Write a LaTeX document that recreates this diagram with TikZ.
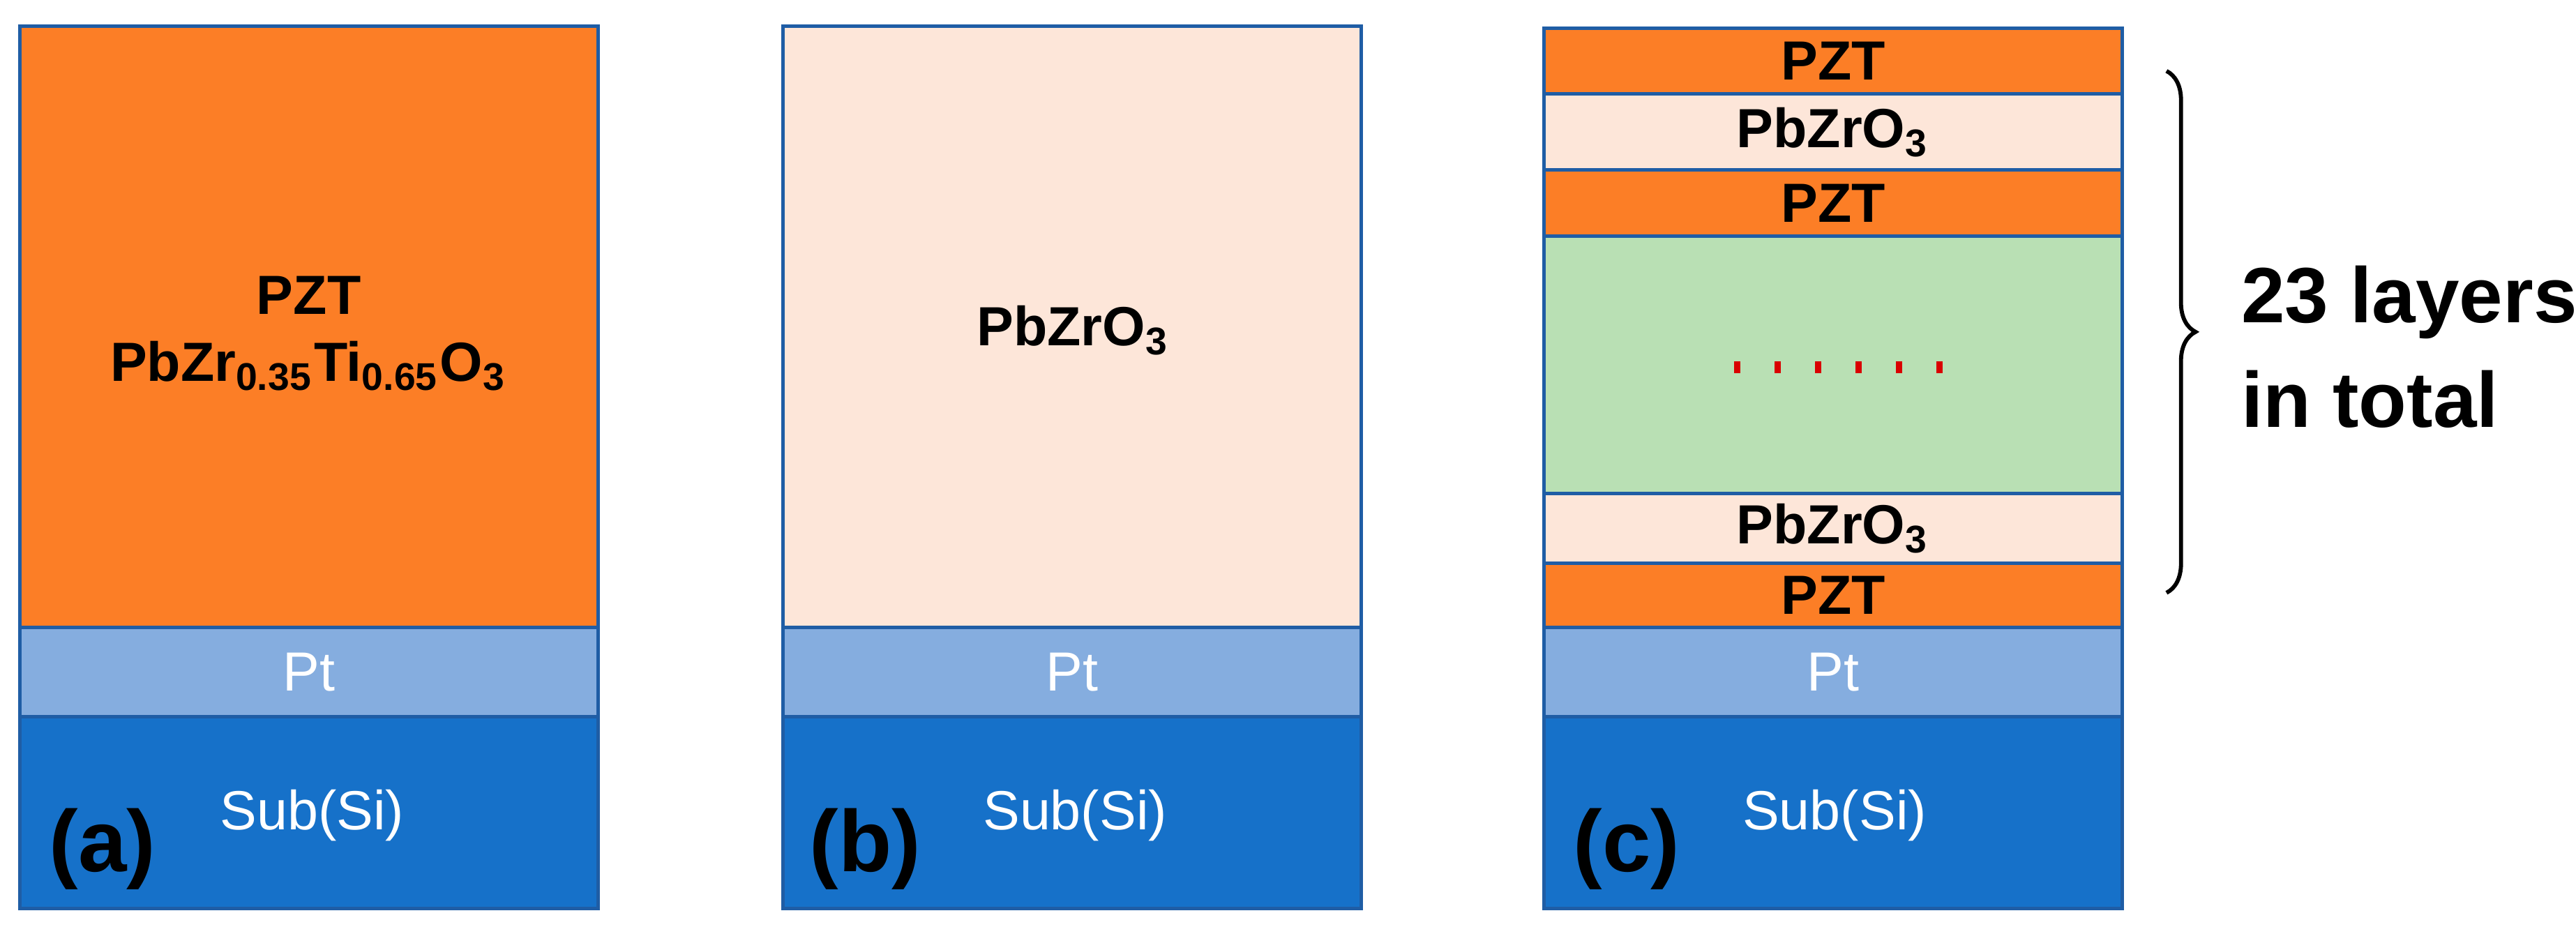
\documentclass[tikz,border=0pt]{standalone}
\usepackage{fontspec}
\setmainfont{Liberation Sans}
\usetikzlibrary{positioning, decorations.pathreplacing}
\definecolor{pztorange}{HTML}{FC7E26}
\definecolor{pzopeach}{HTML}{FDE6D9}
\definecolor{ptblue}{HTML}{85ADDF}
\definecolor{subblue}{HTML}{1671C9}
\definecolor{midgreen}{HTML}{B9E0B4}
\definecolor{edgeblue}{HTML}{1F5DA5}
\tikzset{
	layer/.style={rectangle, draw=edgeblue, line width=0.6pt, anchor=north west,
		minimum width=3.50cm, inner sep=0pt, outer sep=0pt},
	lbl/.style={font=\fontsize{9.5}{11.5}\selectfont\bfseries},
	wlbl/.style={font=\fontsize{9.5}{11}\selectfont, text=white},
	tag/.style={font=\fontsize{15}{19}\selectfont\bfseries}
}
\begin{document}
\begin{tikzpicture}[x=0.01cm, y=-0.01cm]
	\useasboundingbox (0,0) rectangle (1560,561);
	% panel (a)
	\node[layer, fill=pztorange, minimum height=3.64cm] (pzta) at (12,16) {};
	\node[layer, fill=ptblue, minimum height=0.54cm] (pta) at (12,380) {};
	\node[layer, fill=subblue, minimum height=1.16cm] (suba) at (12,434) {};
	\node[lbl, align=center] at (187,202) {PZT\\PbZr\textsubscript{0.35}Ti\textsubscript{0.65}O\textsubscript{3}};
	\node[wlbl] at (pta.center) {Pt};
	\node[wlbl] at (189,494) {Sub(Si)};
	\node[tag] at (62,514) {(a)};
	% panel (b)
	\node[layer, fill=pzopeach, minimum height=3.64cm] (pzob) at (474,16) {};
	\node[layer, fill=ptblue, minimum height=0.54cm] (ptb) at (474,380) {};
	\node[layer, fill=subblue, minimum height=1.16cm] (subb) at (474,434) {};
	\node[lbl] at (650,200) {PbZrO\textsubscript{3}};
	\node[wlbl] at (ptb.center) {Pt};
	\node[wlbl] at (651,494) {Sub(Si)};
	\node[tag] at (524,514) {(b)};
	% panel (c)
	\node[layer, fill=pztorange, minimum height=0.40cm] (c1) at (935,17) {};
	\node[layer, fill=pzopeach, minimum height=0.46cm] (c2) at (935,57) {};
	\node[layer, fill=pztorange, minimum height=0.40cm] (c3) at (935,103) {};
	\node[layer, fill=midgreen, minimum height=1.56cm] (c4) at (935,143) {};
	\node[layer, fill=pzopeach, minimum height=0.42cm] (c5) at (935,299) {};
	\node[layer, fill=pztorange, minimum height=0.39cm] (c6) at (935,341) {};
	\node[layer, fill=ptblue, minimum height=0.54cm] (ptc) at (935,380) {};
	\node[layer, fill=subblue, minimum height=1.16cm] (subc) at (935,434) {};
	\node[lbl] at (c1.center) {PZT};
	\node[lbl] at (c2.center) {PbZrO\textsubscript{3}};
	\node[lbl] at (c3.center) {PZT};
	\node[lbl] at (c5.center) {PbZrO\textsubscript{3}};
	\node[lbl] at (c6.center) {PZT};
	\foreach \i in {0,...,5}
		\fill[red!85!black] (1050+\i*24.5,219) rectangle ++(4,7);
	\node[wlbl] at (ptc.center) {Pt};
	\node[wlbl] at (1111,494) {Sub(Si)};
	\node[tag] at (985,514) {(c)};
	% brace
	\coordinate (btop) at (1312,43);
	\coordinate (bbot) at (1312,359);
	\draw[line width=0.7pt, decorate,
		decoration={brace, amplitude=5pt}] (btop) -- (bbot);
	\node[tag, font=\fontsize{13.5}{18}\selectfont\bfseries, anchor=west, align=left]
		(note) at (1345,210) {23 layers\\in total};
\end{tikzpicture}
\end{document}
